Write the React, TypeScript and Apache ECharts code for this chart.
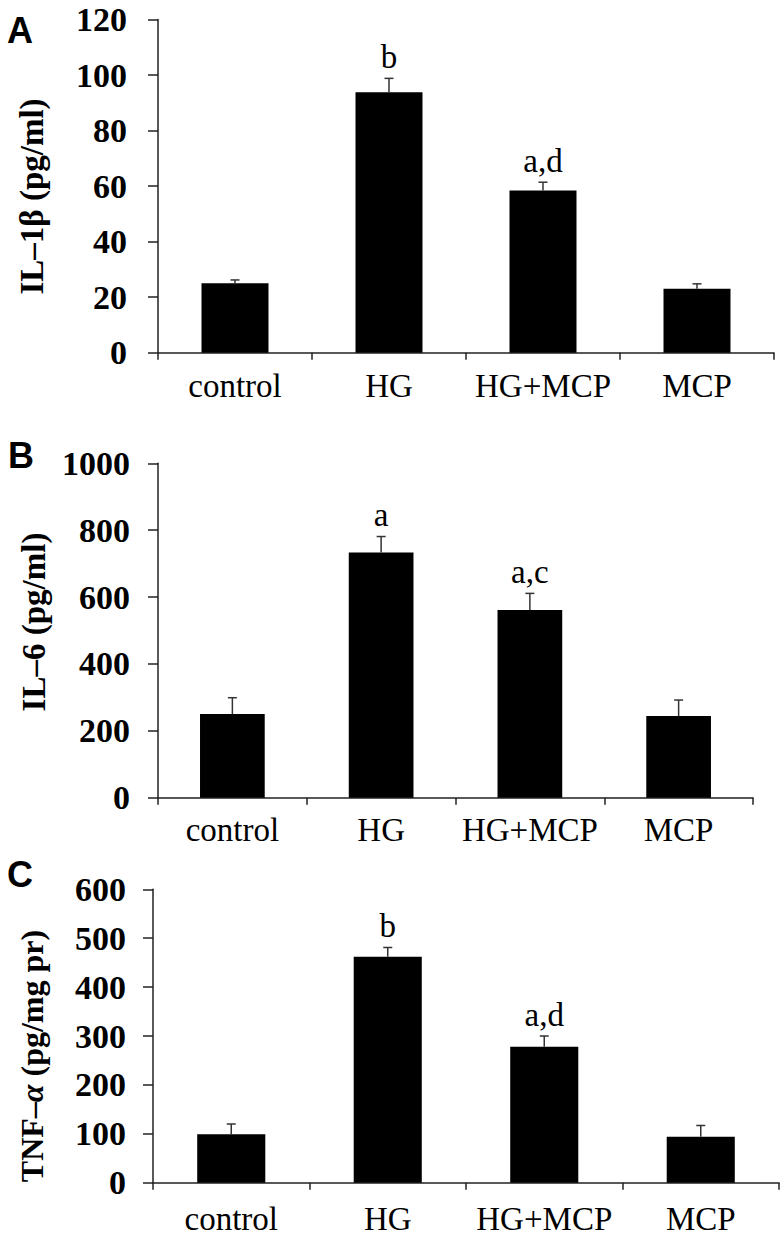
import React, { useEffect, useRef } from "react";
import * as echarts from "echarts";

const categories = ["control", "HG", "HG+MCP", "MCP"];

const il1bMeans = [25, 93.8, 58.4, 23];
const il1bErrors = [1.2, 5, 3, 1.8];
const il1bMarks = ["", "b", "a,d", ""];

const il6Means = [250, 733, 561, 244];
const il6Errors = [49, 48, 50, 48];
const il6Marks = ["", "a", "a,c", ""];

const tnfMeans = [99, 462, 278, 94];
const tnfErrors = [21, 19, 22, 23];
const tnfMarks = ["", "b", "a,d", ""];

const yMax = [120, 1000, 600];
const yStep = [20, 200, 100];

const SERIF = '"Liberation Serif", "Times New Roman", serif';
const SANS = '"Liberation Sans", Arial, sans-serif';

export default function App() {
  const ref = useRef<HTMLDivElement>(null);

  useEffect(() => {
    if (!ref.current) return;
    const chart = echarts.init(ref.current, undefined, { renderer: "svg" });

    const grids = [
      { left: 158, top: 19.5, width: 616, height: 333.2 },
      { left: 158, top: 463.3, width: 595, height: 334.4 },
      { left: 153, top: 889.3, width: 626, height: 293.4 },
    ];
    const labelMargins = [31, 28, 27];
    const xLabelMargins = [17, 16, 20];
    const panels = [
      { means: il1bMeans, errs: il1bErrors, marks: il1bMarks },
      { means: il6Means, errs: il6Errors, marks: il6Marks },
      { means: tnfMeans, errs: tnfErrors, marks: tnfMarks },
    ];

    const axisLine = { show: true, lineStyle: { color: "#222", width: 1.5 } };

    const xAxis = grids.map((_, i) => ({
      type: "category",
      gridIndex: i,
      data: categories,
      boundaryGap: true,
      axisLine,
      axisTick: { show: true, length: 7, lineStyle: { color: "#222", width: 1.5 } },
      axisLabel: {
        color: "#000",
        fontFamily: SERIF,
        fontSize: 33,
        margin: xLabelMargins[i],
        interval: 0,
      },
      splitLine: { show: false },
    }));

    const yAxis = grids.map((_, i) => ({
      type: "value",
      gridIndex: i,
      min: 0,
      max: yMax[i],
      interval: yStep[i],
      axisLine,
      axisTick: { show: true, length: 10, lineStyle: { color: "#222", width: 1.5 } },
      axisLabel: {
        color: "#000",
        fontFamily: SERIF,
        fontWeight: "bold",
        fontSize: 34,
        lineHeight: 28,
        margin: labelMargins[i],
        formatter: (v: number) => String(v),
      },
      splitLine: { show: false },
    }));

    const series: any[] = [];
    panels.forEach((p, i) => {
      series.push({
        type: "bar",
        xAxisIndex: i,
        yAxisIndex: i,
        data: p.means,
        barWidth: "43.5%",
        itemStyle: { color: "#000" },
        silent: true,
      });
      series.push({
        type: "custom",
        xAxisIndex: i,
        yAxisIndex: i,
        clip: false,
        z: 5,
        encode: { x: 0, y: [1, 2] },
        data: p.means.map((m, k) => [k, m, m + p.errs[k]]),
        renderItem: (params: any, api: any) => {
          const idx = api.value(0);
          const p0 = api.coord([idx, api.value(1)]);
          const p1 = api.coord([idx, api.value(2)]);
          const half = 4.5;
          const mark = p.marks[params.dataIndex];
          const children: any[] = [
            {
              type: "line",
              shape: { x1: p0[0], y1: p0[1], x2: p1[0], y2: p1[1] },
              style: { stroke: "#333", lineWidth: 1.5 },
            },
            {
              type: "line",
              shape: { x1: p1[0] - half, y1: p1[1], x2: p1[0] + half, y2: p1[1] },
              style: { stroke: "#333", lineWidth: 1.5 },
            },
          ];
          if (mark) {
            children.push({
              type: "text",
              style: {
                text: mark,
                x: p1[0],
                y: p1[1] - 5,
                align: "center",
                verticalAlign: "bottom",
                fontFamily: SERIF,
                fontSize: 33,
                fill: "#000",
              },
            });
          }
          return { type: "group", children };
        },
      });
    });

    const titleStyle = {
      fontFamily: SERIF,
      fontWeight: "bold",
      fontSize: 33,
      fill: "#000",
      align: "center",
      verticalAlign: "middle",
    };

    const letter = { fontFamily: SANS, fontWeight: "bold", fontSize: 36, fill: "#000", verticalAlign: "middle" };

    const graphic: any[] = [
      { type: "text", x: 7, y: 30, style: { ...letter, text: "A" } },
      { type: "text", x: 8, y: 455, style: { ...letter, text: "B" } },
      { type: "text", x: 7, y: 874, style: { ...letter, text: "C" } },
      { type: "text", x: 32, y: 196.5, rotation: Math.PI / 2, style: { ...titleStyle, text: "IL–1β (pg/ml)" } },
      { type: "text", x: 34, y: 622, rotation: Math.PI / 2, style: { ...titleStyle, text: "IL–6 (pg/ml)" } },
      {
        type: "text",
        x: 32,
        y: 1056,
        rotation: Math.PI / 2,
        style: {
          ...titleStyle,
          fontSize: 32,
          text: "{n|TNF–}{i|α}{n| (pg/mg pr)}",
          rich: {
            n: { fontFamily: SERIF, fontWeight: "bold", fontSize: 32, fill: "#000" },
            i: { fontFamily: SERIF, fontWeight: "bold", fontStyle: "italic", fontSize: 32, fill: "#000" },
          },
        },
      },
    ];

    chart.setOption({
      animation: false,
      backgroundColor: "#fff",
      grid: grids,
      xAxis,
      yAxis,
      series,
      graphic,
    });

    return () => chart.dispose();
  }, []);

  return (
    <div
      ref={ref}
      style={{ position: "absolute", left: 0, top: 0, width: 784, height: 1241, background: "#fff" }}
    />
  );
}
